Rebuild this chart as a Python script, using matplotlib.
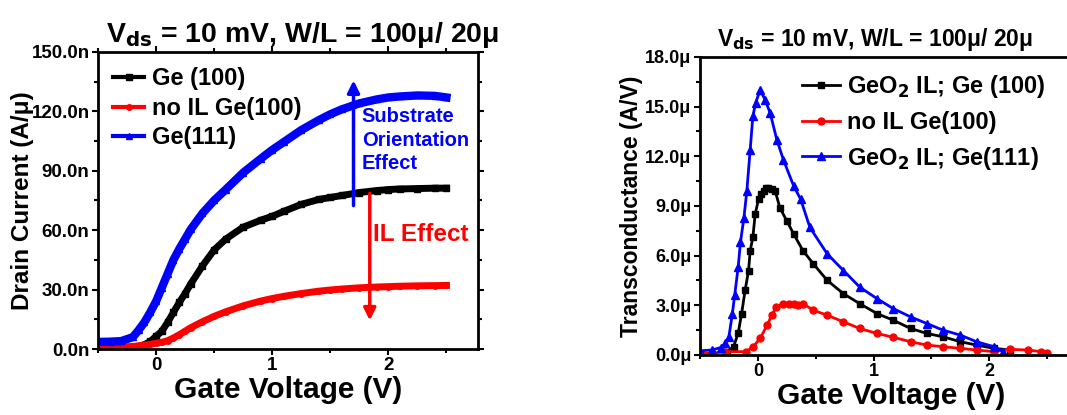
import numpy as np
import matplotlib.pyplot as plt
from matplotlib.ticker import MultipleLocator, FuncFormatter

plt.rcParams['font.family'] = ['Liberation Sans', 'DejaVu Sans']
plt.rcParams['font.weight'] = 'bold'

# drain current, A/um (in n)
vg_id = [-0.5, -0.4, -0.3, -0.2, -0.15, -0.1, -0.05, 0.0, 0.05, 0.1, 0.15, 0.2, 0.25,
         0.3, 0.4, 0.5, 0.6, 0.75, 0.9, 1.0, 1.1, 1.25, 1.4, 1.5, 1.6, 1.75, 1.9,
         2.0, 2.1, 2.25, 2.4, 2.5]
id_ge100 = [0.3, 0.4, 0.5, 0.9, 1.3, 2.2, 3.8, 6.4, 9.0, 13.5, 18.5, 23.5, 28.0,
            33.0, 42.0, 50.0, 55.5, 61.5, 65.0, 67.0, 69.5, 73.0, 75.5, 76.5, 77.5, 79.0, 80.0,
            80.5, 80.8, 81.0, 81.2, 81.2]
id_noil = [0.6, 0.8, 1.0, 1.3, 1.6, 2.0, 2.4, 2.9, 3.4, 4.2, 5.6, 7.2, 9.0,
           10.8, 13.8, 16.5, 18.8, 21.8, 24.2, 25.5, 26.6, 28.0, 29.2, 29.8, 30.3, 30.9, 31.3,
           31.5, 31.7, 31.9, 32.0, 32.1]
id_ge111 = [3.6, 3.7, 4.0, 6.0, 9.5, 13.5, 18.5, 24.0, 31.0, 38.0, 45.0, 50.5, 55.5,
            60.5, 68.5, 75.0, 80.5, 89.0, 96.0, 100.5, 104.5, 110.5, 115.5, 118.5, 121.0, 124.0, 126.0,
            127.0, 127.5, 128.0, 127.8, 127.0]

# transconductance, A/V (in u)
vg_gm100 = [-0.27, -0.21, -0.17, -0.14, -0.11, -0.08, -0.066, -0.043, -0.023, 0.006,
            0.03, 0.05, 0.07, 0.09, 0.12, 0.15, 0.19, 0.25, 0.31, 0.39, 0.48, 0.6,
            0.74, 0.88, 1.03, 1.17, 1.32, 1.46, 1.6, 1.75, 1.89, 2.04, 2.18]
gm_ge100 = [0.2, 0.5, 1.3, 2.5, 3.9, 5.1, 6.3, 7.1, 8.5, 9.4,
            9.7, 9.9, 10.1, 10.1, 10.0, 9.9, 8.9, 8.1, 7.3, 6.3, 5.5, 4.5,
            3.7, 3.1, 2.5, 2.1, 1.6, 1.3, 1.1, 0.8, 0.6, 0.4, 0.3]
vg_gmnoil = [-0.5, -0.4, -0.28, -0.1, -0.04, 0.02, 0.08, 0.12, 0.16, 0.22, 0.27,
             0.31, 0.35, 0.39, 0.48, 0.6, 0.74, 0.88, 1.03, 1.17, 1.32, 1.46,
             1.6, 1.75, 1.89, 2.04, 2.18, 2.33, 2.45, 2.5]
gm_noil = [0.1, 0.1, 0.2, 0.2, 0.5, 1.0, 1.8, 2.4, 2.9, 3.1, 3.1,
           3.1, 3.0, 3.1, 2.7, 2.4, 2.0, 1.6, 1.3, 1.07, 0.8, 0.6,
           0.5, 0.4, 0.3, 0.2, 0.34, 0.3, 0.2, 0.1]
vg_gm111 = [-0.5, -0.4, -0.32, -0.28, -0.25, -0.22, -0.2, -0.17, -0.15, -0.12, -0.095,
            -0.066, -0.043, -0.02, 0.02, 0.063, 0.107, 0.164, 0.22, 0.31, 0.37, 0.45,
            0.6, 0.74, 0.88, 1.03, 1.17, 1.32, 1.46, 1.6, 1.75, 1.89, 2.04, 2.12]
gm_ge111 = [0.25, 0.3, 0.45, 0.7, 1.1, 2.5, 3.6, 5.3, 6.8, 8.3, 9.9,
            12.4, 14.4, 15.2, 16.0, 15.4, 14.6, 13.0, 11.8, 10.2, 9.4, 7.7,
            6.1, 5.1, 4.1, 3.4, 2.8, 2.3, 1.9, 1.5, 1.2, 0.8, 0.5, 0.2]

title_txt = r'V$_{\mathbf{ds}}$ = 10 mV, W/L = 100μ/ 20μ'

fig = plt.figure(figsize=(10.67, 4.15), dpi=100)
ax1 = fig.add_axes([0.0918, 0.159, 0.356, 0.716])
ax2 = fig.add_axes([0.656, 0.1446, 0.358, 0.7184])


def style_axes(ax, fs):
    for s in ax.spines.values():
        s.set_linewidth(2)
    ax.tick_params(which='both', width=1.5, labelsize=fs, pad=2)
    ax.tick_params(which='major', length=4)
    ax.tick_params(which='minor', length=3)
    ax.xaxis.set_major_locator(MultipleLocator(1))
    ax.xaxis.set_minor_locator(MultipleLocator(0.5))
    for lab in ax.get_xticklabels() + ax.get_yticklabels():
        lab.set_fontweight('bold')


# left: drain current
ax1.plot(vg_id, id_ge100, color='black', lw=5, marker='s', ms=4, label='Ge (100)')
ax1.plot(vg_id, id_noil, color='red', lw=5, marker='o', ms=4, label='no IL Ge(100)')
ax1.plot(vg_id, id_ge111, color='blue', lw=6, marker='^', ms=5, label='Ge(111)')
ax1.set_xlim(-0.5, 2.77)
ax1.set_ylim(0, 150)
ax1.yaxis.set_major_locator(MultipleLocator(30))
ax1.yaxis.set_minor_locator(MultipleLocator(15))
ax1.yaxis.set_major_formatter(FuncFormatter(lambda v, p: f'{v:.1f}n'))
style_axes(ax1, 13.5)
ax1.tick_params(which='both', top=True, right=True)
ax1.set_xlabel('Gate Voltage (V)', fontsize=21.5, fontweight='bold', labelpad=1)
ax1.set_ylabel('Drain Current (A/μ)', fontsize=17.5, fontweight='bold', labelpad=-2)
ax1.set_title(title_txt, fontsize=20.5, fontweight='bold', pad=7, x=0.54)
ax1.legend(loc='upper left', frameon=False, handlelength=1.3,
           handletextpad=0.35, labelspacing=0.28, borderaxespad=0.25,
           prop={'weight': 'bold', 'size': 17})
for line in ax1.get_legend().get_lines():
    line.set_linewidth(3)

# arrows and notes
up_x, up_y0, up_y1 = 1.70, 71, 137
dn_x, dn_y0, dn_y1 = 1.84, 80, 13
ax1.annotate('', xy=(up_x, up_y1), xytext=(up_x, up_y0),
             arrowprops=dict(arrowstyle='-|>', color='blue', lw=2.5, mutation_scale=18))
ax1.annotate('', xy=(dn_x, dn_y1), xytext=(dn_x, dn_y0),
             arrowprops=dict(arrowstyle='-|>', color='red', lw=2.5, mutation_scale=18))
ax1.text(1.77, 122, 'Substrate\nOrientation\nEffect', color='blue', fontsize=14.5,
         fontweight='bold', ha='left', va='top', linespacing=1.3)
ax1.text(1.87, 58, 'IL Effect', color='red', fontsize=17.5, fontweight='bold',
         ha='left', va='center')

# right: transconductance
ax2.plot(vg_gm100, gm_ge100, color='black', lw=2, marker='s', ms=5, label='GeO$_2$ IL; Ge (100)')
ax2.plot(vg_gmnoil, gm_noil, color='red', lw=2, marker='o', ms=5, label='no IL Ge(100)')
ax2.plot(vg_gm111, gm_ge111, color='blue', lw=2, marker='^', ms=6, label='GeO$_2$ IL; Ge(111)')
ax2.set_xlim(-0.5, 2.8)
ax2.set_ylim(0, 18)
ax2.yaxis.set_major_locator(MultipleLocator(3))
ax2.yaxis.set_minor_locator(MultipleLocator(1.5))
ax2.yaxis.set_major_formatter(FuncFormatter(lambda v, p: f'{v:.1f}μ'))
style_axes(ax2, 13)
ax2.set_xlabel('Gate Voltage (V)', fontsize=21.5, fontweight='bold', labelpad=1)
ax2.set_ylabel('Transconductance (A/V)', fontsize=16.5, fontweight='bold', labelpad=2)
ax2.set_title(title_txt, fontsize=16.5, fontweight='bold', pad=8, x=0.458)
ax2.legend(loc='upper left', bbox_to_anchor=(0.225, 1.0), frameon=False, handlelength=1.6,
           handletextpad=0.3, labelspacing=0.45, borderaxespad=0.3,
           prop={'weight': 'bold', 'size': 17})

fig.savefig('out.png', dpi=100)
